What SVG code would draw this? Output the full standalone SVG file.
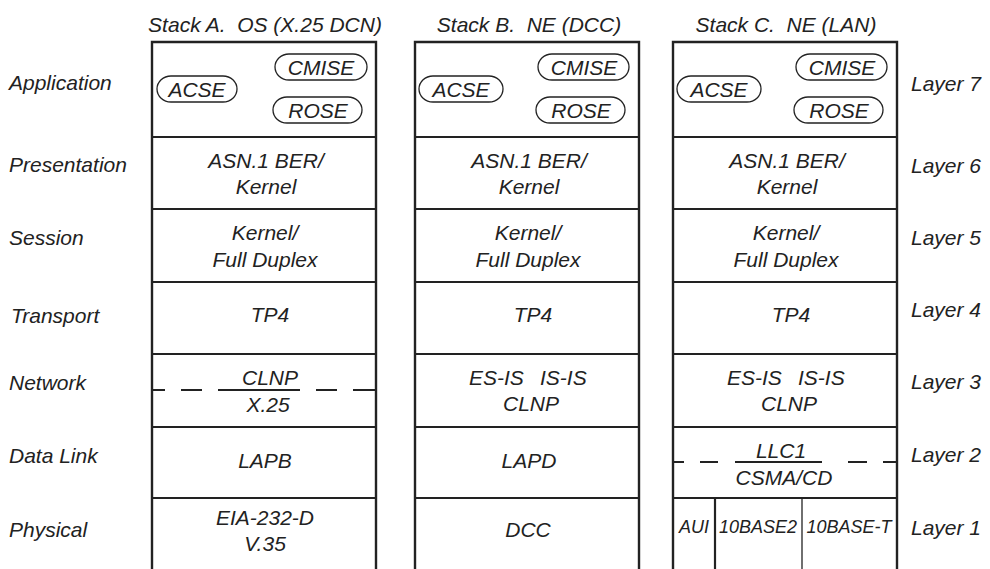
<svg xmlns="http://www.w3.org/2000/svg" width="990" height="569" viewBox="0 0 990 569">
<style>
text{font-family:"Liberation Sans",Arial,sans-serif;font-style:italic;font-size:21px;fill:#222}
.c{text-anchor:middle}
.sm{font-size:18px}
.frame{fill:none;stroke:#222;stroke-width:2.4}
.sep{stroke:#222;stroke-width:2.2}
.thin{stroke:#222;stroke-width:1.3}
.dash{stroke:#222;stroke-width:2}
.pill{fill:#fff;stroke:#222;stroke-width:1.3}
</style>
<rect width="990" height="569" fill="#fff"/>
<g id="layer-labels">
<text x="9" y="90">Application</text>
<text x="9" y="172">Presentation</text>
<text x="9" y="245">Session</text>
<text x="11" y="323">Transport</text>
<text x="9" y="390">Network</text>
<text x="9" y="463">Data Link</text>
<text x="9" y="537">Physical</text>
</g>
<g id="layer-numbers">
<text x="911" y="91">Layer 7</text>
<text x="911" y="173">Layer 6</text>
<text x="911" y="245">Layer 5</text>
<text x="911" y="317">Layer 4</text>
<text x="911" y="389">Layer 3</text>
<text x="911" y="462">Layer 2</text>
<text x="911" y="535">Layer 1</text>
</g>
<g id="stackA">
<text class="c" x="265" y="32">Stack A.&#160; OS (X.25 DCN)</text>
<path class="frame" d="M152,569V42H376V569"/>
<g class="sep"><line x1="152" y1="137" x2="376" y2="137"/><line x1="152" y1="209" x2="376" y2="209"/><line x1="152" y1="282" x2="376" y2="282"/><line x1="152" y1="354" x2="376" y2="354"/><line x1="152" y1="427" x2="376" y2="427"/><line x1="152" y1="498" x2="376" y2="498"/></g>
<g id="A7"><rect class="pill" x="157" y="76" width="80" height="26" rx="14" ry="13"/><text class="c" x="197" y="97">ACSE</text>
<rect class="pill" x="275" y="54" width="92" height="26" rx="14" ry="13"/><text class="c" x="321" y="75">CMISE</text>
<rect class="pill" x="273" y="97" width="89" height="26" rx="14" ry="13"/><text class="c" x="318" y="118">ROSE</text></g>
<g id="A6"><text class="c" x="266" y="168">ASN.1 BER/</text><text class="c" x="266" y="194">Kernel</text></g>
<g id="A5"><text class="c" x="265" y="240">Kernel/</text><text class="c" x="265" y="267">Full Duplex</text></g>
<g id="A4"><text class="c" x="270" y="322">TP4</text></g>
<g id="A3"><g class="dash"><line x1="153" y1="390" x2="165" y2="390"/><line x1="181" y1="390" x2="202" y2="390"/><line x1="218" y1="390" x2="300" y2="390"/><line x1="316" y1="390" x2="337" y2="390"/><line x1="353" y1="390" x2="375" y2="390"/></g>
<text class="c" x="270" y="385">CLNP</text><text class="c" x="268" y="412">X.25</text></g>
<g id="A2"><text class="c" x="265" y="468">LAPB</text></g>
<g id="A1"><text class="c" x="265" y="525">EIA-232-D</text><text class="c" x="265" y="551">V.35</text></g>
</g>
<g id="stackB">
<text class="c" x="529" y="32">Stack B.&#160; NE (DCC)</text>
<path class="frame" d="M415,569V42H639V569"/>
<g class="sep"><line x1="415" y1="137" x2="639" y2="137"/><line x1="415" y1="209" x2="639" y2="209"/><line x1="415" y1="282" x2="639" y2="282"/><line x1="415" y1="354" x2="639" y2="354"/><line x1="415" y1="427" x2="639" y2="427"/><line x1="415" y1="498" x2="639" y2="498"/></g>
<g id="B7"><rect class="pill" x="419" y="76" width="84" height="26" rx="14" ry="13"/><text class="c" x="461" y="97">ACSE</text>
<rect class="pill" x="538" y="54" width="91" height="26" rx="14" ry="13"/><text class="c" x="584" y="75">CMISE</text>
<rect class="pill" x="536" y="97" width="89" height="26" rx="14" ry="13"/><text class="c" x="581" y="118">ROSE</text></g>
<g id="B6"><text class="c" x="529" y="168">ASN.1 BER/</text><text class="c" x="529" y="194">Kernel</text></g>
<g id="B5"><text class="c" x="528" y="240">Kernel/</text><text class="c" x="528" y="267">Full Duplex</text></g>
<g id="B4"><text class="c" x="533" y="322">TP4</text></g>
<g id="B3"><text x="469" y="385">ES-IS</text><text x="540" y="385">IS-IS</text><text class="c" x="531" y="411">CLNP</text></g>
<g id="B2"><text class="c" x="529" y="468">LAPD</text></g>
<g id="B1"><text class="c" x="528" y="537">DCC</text></g>
</g>
<g id="stackC">
<text class="c" x="786" y="32">Stack C.&#160; NE (LAN)</text>
<path class="frame" d="M673,569V42H897V569"/>
<g class="sep"><line x1="673" y1="137" x2="897" y2="137"/><line x1="673" y1="209" x2="897" y2="209"/><line x1="673" y1="282" x2="897" y2="282"/><line x1="673" y1="354" x2="897" y2="354"/><line x1="673" y1="427" x2="897" y2="427"/><line x1="673" y1="498" x2="897" y2="498"/></g>
<g id="C7"><rect class="pill" x="677" y="76" width="84" height="26" rx="14" ry="13"/><text class="c" x="719" y="97">ACSE</text>
<rect class="pill" x="796" y="54" width="91" height="26" rx="14" ry="13"/><text class="c" x="842" y="75">CMISE</text>
<rect class="pill" x="794" y="97" width="89" height="26" rx="14" ry="13"/><text class="c" x="839" y="118">ROSE</text></g>
<g id="C6"><text class="c" x="787" y="168">ASN.1 BER/</text><text class="c" x="787" y="194">Kernel</text></g>
<g id="C5"><text class="c" x="786" y="240">Kernel/</text><text class="c" x="786" y="267">Full Duplex</text></g>
<g id="C4"><text class="c" x="791" y="322">TP4</text></g>
<g id="C3"><text x="727" y="385">ES-IS</text><text x="798" y="385">IS-IS</text><text class="c" x="789" y="411">CLNP</text></g>
<g id="C2"><g class="dash"><line x1="674" y1="462" x2="684" y2="462"/><line x1="700" y1="462" x2="718" y2="462"/><line x1="735" y1="462" x2="822" y2="462"/><line x1="848" y1="462" x2="867" y2="462"/><line x1="883" y1="462" x2="896" y2="462"/></g>
<text class="c" x="781" y="458">LLC1</text><text class="c" x="784" y="485">CSMA/CD</text></g>
<g id="C1"><line class="sep" x1="715" y1="498" x2="715" y2="569"/><line class="thin" x1="802" y1="498" x2="802" y2="569"/>
<text class="c sm" x="694" y="533">AUI</text><text class="c sm" x="758" y="533">10BASE2</text><text class="c sm" x="849" y="533">10BASE-T</text></g>
</g>
</svg>
